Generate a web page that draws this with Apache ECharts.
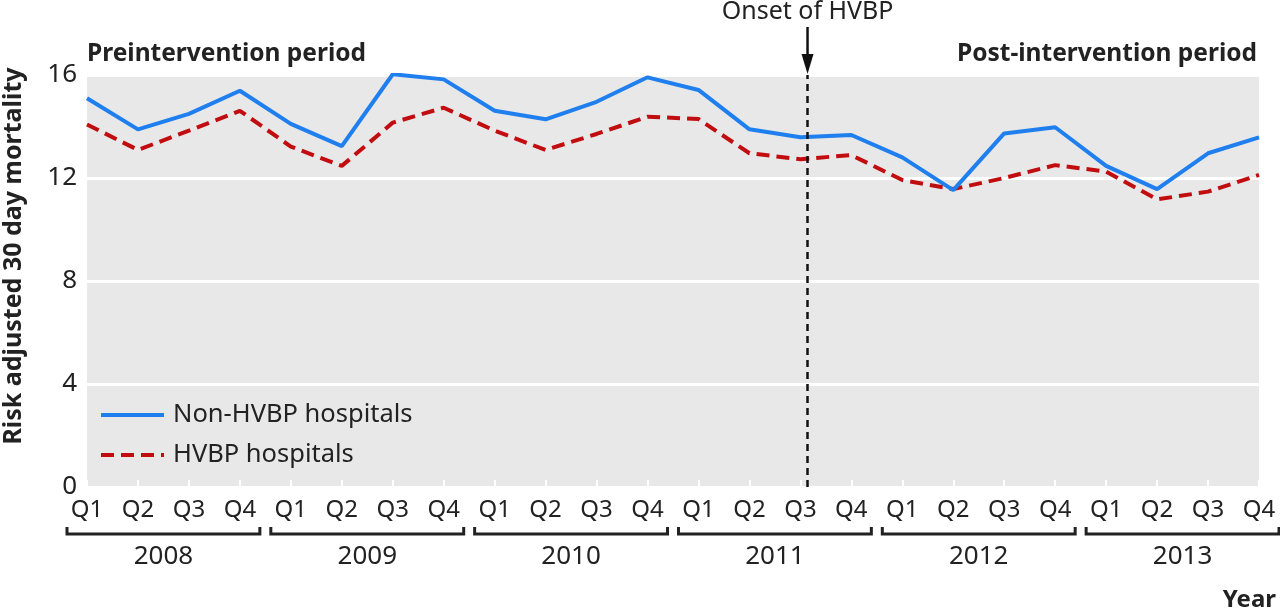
<!DOCTYPE html>
<html>
<head>
<meta charset="utf-8">
<script src="https://cdn.jsdelivr.net/npm/echarts@6/dist/echarts.min.js"></script>
<style>
html,body{margin:0;padding:0;background:#fff;}
#c{width:1280px;height:613px;}
</style>
</head>
<body>
<div id="c"></div>
<script>
const quarters = ['Q1','Q2','Q3','Q4','Q1','Q2','Q3','Q4','Q1','Q2','Q3','Q4',
                  'Q1','Q2','Q3','Q4','Q1','Q2','Q3','Q4','Q1','Q2','Q3','Q4'];
const years = ['2008','2009','2010','2011','2012','2013'];
const nonHVBP = [15.1, 13.89, 14.49, 15.39, 14.1, 13.24, 16.03, 15.83, 14.61, 14.28, 14.96, 15.91,
                 15.42, 13.89, 13.58, 13.67, 12.8, 11.53, 13.73, 13.97, 12.47, 11.57, 12.96, 13.58];
const hvbp = [14.08, 13.09, 13.84, 14.61, 13.22, 12.47, 14.15, 14.73, 13.84, 13.09, 13.71, 14.38,
              14.29, 12.96, 12.73, 12.89, 11.92, 11.57, 12.0, 12.5, 12.25, 11.17, 11.47, 12.12];
const yTicks = [0, 4, 8, 12, 16];
const onsetPos = 14.14; // HVBP onset on the quarter-index scale

const FONT = '"Noto Sans", sans-serif';
const TXT = '#222';
const chart = echarts.init(document.getElementById('c'), null, {renderer: 'canvas'});

const option = {
  animation: false,
  backgroundColor: '#fff',
  textStyle: {fontFamily: FONT},
  grid: {left: 87, right: 21, top: 75, bottom: 126, show: true, backgroundColor: '#e8e8e8', borderWidth: 0},
  xAxis: {
    type: 'value', min: 0, max: quarters.length - 1, interval: 1,
    axisLine: {show: false},
    axisTick: {show: true, inside: true, length: 7, lineStyle: {color: '#fff', width: 2}},
    splitLine: {show: false},
    axisLabel: {formatter: v => quarters[v] || '', color: TXT, fontSize: 24, fontFamily: FONT, margin: 11}
  },
  yAxis: {
    type: 'value', min: yTicks[0], max: yTicks[yTicks.length - 1], interval: 4,
    axisLine: {show: false}, axisTick: {show: false},
    splitLine: {show: true, lineStyle: {color: '#fff', width: 3}},
    axisLabel: {color: TXT, fontSize: 26, fontFamily: FONT, margin: 10}
  },
  legend: {
    orient: 'vertical', left: 94, top: 397, itemWidth: 63, itemHeight: 14, itemGap: 14,
    itemStyle: {opacity: 0},
    lineStyle: {width: 4},
    textStyle: {fontSize: 25.5, color: TXT, fontFamily: FONT, padding: [0, 0, 0, 4]},
    data: ['Non-HVBP hospitals', 'HVBP hospitals']
  },
  series: [
    {
      name: 'Non-HVBP hospitals', type: 'line', symbol: 'none',
      data: nonHVBP.map((v, i) => [i, v]),
      lineStyle: {color: '#1f7fef', width: 4}, itemStyle: {color: '#1f7fef'},
      z: 3,
      markLine: {
        silent: true, symbol: 'none', label: {show: false},
        lineStyle: {color: '#111', type: [7, 5], width: 2.5},
        data: [{xAxis: onsetPos}]
      }
    },
    {
      name: 'HVBP hospitals', type: 'line', symbol: 'none',
      data: hvbp.map((v, i) => [i, v]),
      lineStyle: {color: '#c20d10', width: 4, type: [13, 7]}, itemStyle: {color: '#c20d10'},
      z: 2
    }
  ]
};
chart.setOption(option);

function px(x, y) { return chart.convertToPixel({gridIndex: 0}, [x, y]); }
const g = [];
// year brackets
years.forEach((yr, j) => {
  const x0 = px(4 * j, 0)[0] - 20;
  const x1 = px(4 * j + 3, 0)[0] + 20;
  const yb = 534;
  g.push({type: 'polyline', silent: true,
    shape: {points: [[x0, yb - 7], [x0, yb], [x1, yb], [x1, yb - 7]]},
    style: {stroke: '#222', lineWidth: 3, fill: null}});
  g.push({type: 'text', silent: true, x: (x0 + x1) / 2, y: 557,
    style: {text: yr, font: '26px ' + FONT, fill: TXT, align: 'center', verticalAlign: 'middle'}});
});
// onset arrow and label
const onsetTop = px(onsetPos, 16);
g.push({type: 'line', silent: true, shape: {x1: onsetTop[0], y1: 27, x2: onsetTop[0], y2: 58},
  style: {stroke: '#111', lineWidth: 2.5}});
g.push({type: 'polygon', silent: true, shape: {points: [[onsetTop[0] - 6, 54], [onsetTop[0] + 6, 54], [onsetTop[0], onsetTop[1] - 1]]},
  style: {fill: '#111'}});
g.push({type: 'text', silent: true, x: onsetTop[0], y: 12,
  style: {text: 'Onset of HVBP', font: '25px ' + FONT, fill: TXT, align: 'center', verticalAlign: 'middle'}});
// period titles
g.push({type: 'text', silent: true, x: px(0, 16)[0], y: 54,
  style: {text: 'Preintervention period', font: 'bold 24.5px ' + FONT, fill: TXT, align: 'left', verticalAlign: 'middle'}});
g.push({type: 'text', silent: true, x: px(quarters.length - 1, 16)[0] - 2, y: 54,
  style: {text: 'Post-intervention period', font: 'bold 24.5px ' + FONT, fill: TXT, align: 'right', verticalAlign: 'middle'}});
// axis titles
g.push({type: 'text', silent: true, x: 14, y: 256, rotation: Math.PI / 2,
  style: {text: 'Risk adjusted 30 day mortality', font: 'bold 25px ' + FONT, fill: TXT, align: 'center', verticalAlign: 'middle'}});
g.push({type: 'text', silent: true, x: 1276, y: 600,
  style: {text: 'Year', font: 'bold 24px ' + FONT, fill: TXT, align: 'right', verticalAlign: 'middle'}});
chart.setOption({graphic: g});
</script>
</body>
</html>
